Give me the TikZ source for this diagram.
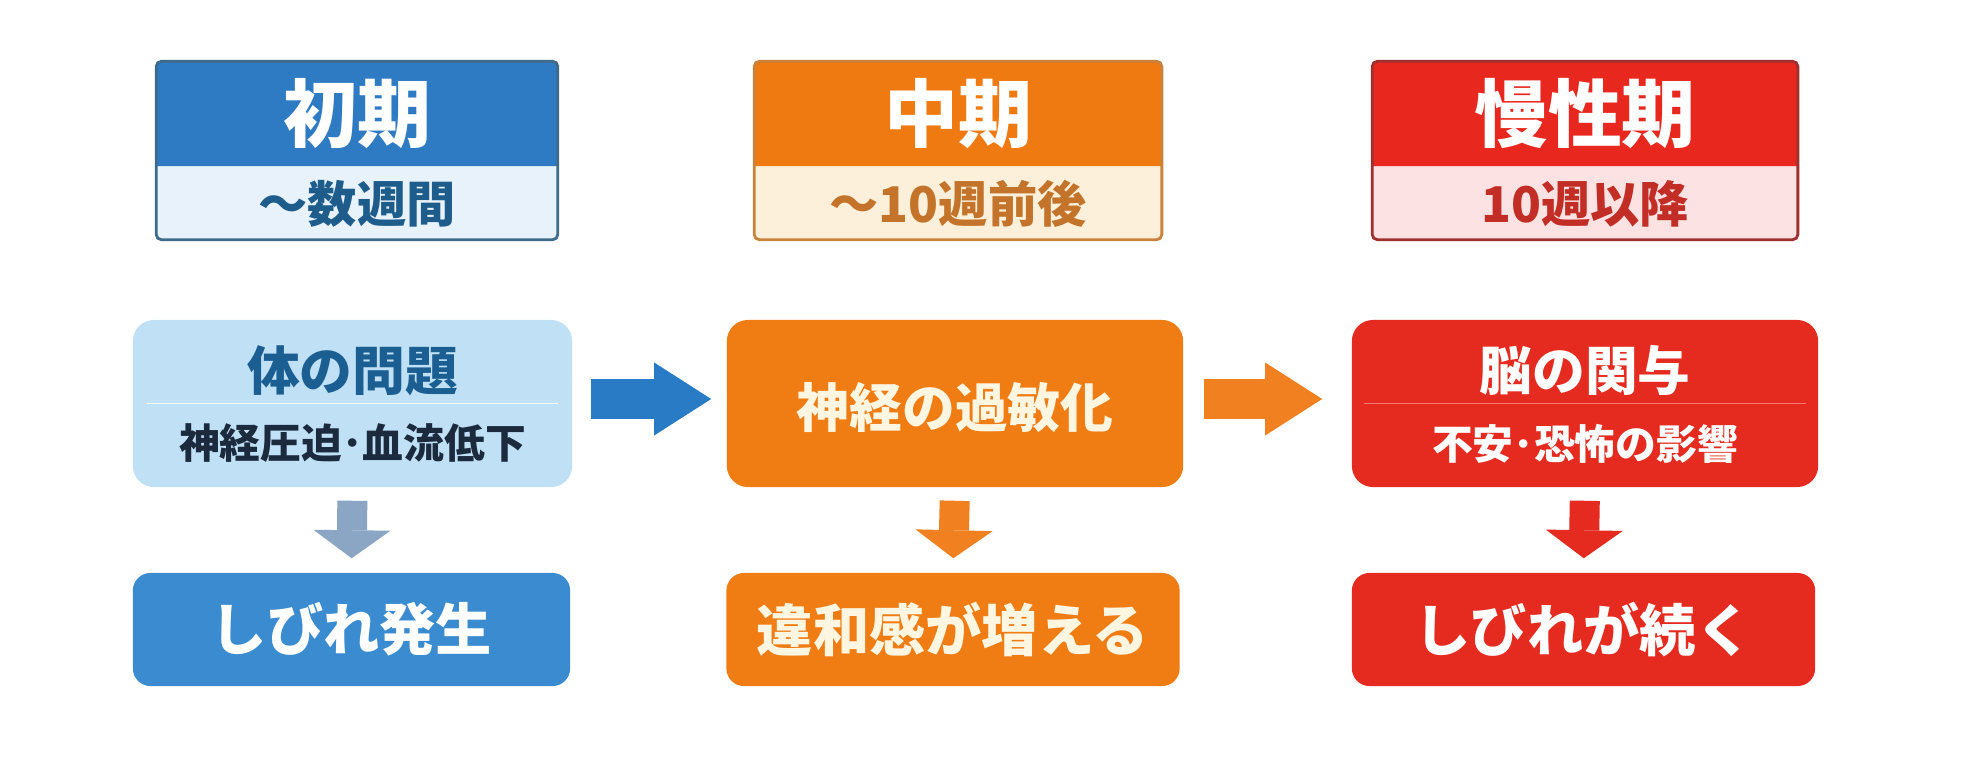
\documentclass[tikz,border=0pt]{standalone}
\usepackage{fontspec}
\setmainfont{Noto Sans CJK JP}
\usetikzlibrary{calc,arrows.meta}

\definecolor{blueH}{HTML}{2E7BC4}
\definecolor{blueHL}{HTML}{E7F2FA}
\definecolor{blueHT}{HTML}{1E5C8C}
\definecolor{blueB}{HTML}{3F6A88}
\definecolor{blueM}{HTML}{BFE0F5}
\definecolor{blueMT}{HTML}{1B5E92}
\definecolor{blueMS}{HTML}{1C2A3E}
\definecolor{blueDA}{HTML}{8AA6C4}
\definecolor{blueBot}{HTML}{3A8BD0}
\definecolor{blueRA}{HTML}{2A7BC6}
\definecolor{orH}{HTML}{F07A12}
\definecolor{orHL}{HTML}{FDF0DA}
\definecolor{orHT}{HTML}{C4742A}
\definecolor{orB}{HTML}{C8823C}
\definecolor{orM}{HTML}{F07C14}
\definecolor{orT}{HTML}{FFF6E2}
\definecolor{orRA}{HTML}{F08020}
\definecolor{redH}{HTML}{E8281F}
\definecolor{redHL}{HTML}{FCE2E2}
\definecolor{redHT}{HTML}{C22E26}
\definecolor{redB}{HTML}{A03030}
\definecolor{redM}{HTML}{E52B20}
\definecolor{redL}{HTML}{F47A70}

\tikzset{
  hdrbox/.style={rectangle,rounded corners=1.5pt,minimum height=1.77cm,inner sep=0pt},
  hdrtitle/.style={text=white,font=\fontsize{21}{25}\selectfont\bfseries},
  hdrsub/.style={font=\fontsize{14}{17}\selectfont\bfseries},
  midbox/.style={rectangle,rounded corners=6pt,minimum height=1.67cm,inner sep=0pt},
  midtitle/.style={font=\fontsize{15}{18}\selectfont\bfseries},
  midsub/.style={font=\fontsize{11.6}{14}\selectfont\bfseries},
  botbox/.style={rectangle,rounded corners=5pt,minimum height=1.13cm,inner sep=0pt,text=white,font=\fontsize{16}{19}\selectfont\bfseries},
  rightarrow/.style={line width=0.4cm,-{Triangle[length=0.57cm,width=0.73cm,line width=0pt]}},
  downarrow/.style={line width=0.3cm,-{Triangle[length=0.28cm,width=0.77cm,line width=0pt]}},
}

\begin{document}
\begin{tikzpicture}[x=0.01cm,y=-0.01cm]
  \useasboundingbox[fill=white] (0,0) rectangle (1980,764);

  % headers
  \node[hdrbox,fill=blueHL,minimum width=4cm] (h1) at (357,150.5) {};
  \node[hdrbox,fill=orHL,minimum width=4.06cm] (h2) at (958,150.5) {};
  \node[hdrbox,fill=redHL,minimum width=4.24cm] (h3) at (1585,150.5) {};
  \fill[blueH] ($(h1.north west)+(0,105)$) {[rounded corners=1.5pt] -- (h1.north west) -- (h1.north east)} -- ($(h1.north east)+(0,105)$) -- cycle;
  \fill[orH] ($(h2.north west)+(0,105)$) {[rounded corners=1.5pt] -- (h2.north west) -- (h2.north east)} -- ($(h2.north east)+(0,105)$) -- cycle;
  \fill[redH] ($(h3.north west)+(0,105)$) {[rounded corners=1.5pt] -- (h3.north west) -- (h3.north east)} -- ($(h3.north east)+(0,105)$) -- cycle;
  \draw[blueB,thick,rounded corners=1.5pt] (h1.north west) rectangle (h1.south east);
  \draw[orB,thick,rounded corners=1.5pt] (h2.north west) rectangle (h2.south east);
  \draw[redB,thick,rounded corners=1.5pt] (h3.north west) rectangle (h3.south east);
  \node[hdrtitle] (t1) at ($(h1.north)+(0,52.5)$) {初期};
  \node[hdrtitle] (t2) at ($(h2.north)+(0,52.5)$) {中期};
  \node[hdrtitle] (t3) at ($(h3.north)+(0,52.5)$) {慢性期};
  \node[hdrsub,text=blueHT] (d1) at ($(h1.south)+(0,-36)$) {〜数週間};
  \node[hdrsub,text=orHT] (d2) at ($(h2.south)+(0,-36)$) {〜10週前後};
  \node[hdrsub,text=redHT] (d3) at ($(h3.south)+(0,-36)$) {10週以降};

  % middle row
  \node[midbox,fill=blueM,minimum width=4.39cm] (m1) at (352.5,403.5) {};
  \node[midbox,fill=orM,minimum width=4.56cm] (m2) at (955,403.5) {};
  \node[midbox,fill=redM,minimum width=4.66cm] (m3) at (1585,403.5) {};
  \draw[white,shorten <=0.15cm,shorten >=0.15cm] (m1.west) -- (m1.east);
  \draw[redL,shorten <=0.13cm,shorten >=0.13cm] (m3.west) -- (m3.east);
  \node[midtitle,text=blueMT] (p1) at ($(m1)+(0,-33)$) {体の問題};
  \node[midsub,text=blueMS] (q1) at ($(m1)+(0,40)$) {神経圧迫･血流低下};
  \node[midtitle,text=orT] (p2) at ($(m2)+(0,4)$) {神経の過敏化};
  \node[midtitle,text=white] (p3) at ($(m3)+(0,-33)$) {脳の関与};
  \node[midsub,text=white] (q3) at ($(m3)+(0,40)$) {不安･恐怖の影響};

  % bottom row
  \node[botbox,fill=blueBot,minimum width=4.37cm] (b1) at (351.5,629.5) {しびれ発生};
  \node[botbox,fill=orM,text=orT,minimum width=4.53cm] (b2) at (953,629.5) {違和感が増える};
  \node[botbox,fill=redM,minimum width=4.63cm] (b3) at (1583.5,629.5) {しびれが続く};

  % arrows
  \draw[rightarrow,blueRA,shorten <=0.18cm,shorten >=0.15cm] ([yshift=0.045cm]m1.east) -- ([yshift=0.045cm]m2.west);
  \draw[rightarrow,orRA,shorten <=0.2cm,shorten >=0.29cm] ([yshift=0.045cm]m2.east) -- ([yshift=0.045cm]m3.west);
  \draw[downarrow,blueDA,shorten <=0.13cm,shorten >=0.14cm] (m1.south) -- (b1.north);
  \draw[downarrow,orRA,shorten <=0.13cm,shorten >=0.14cm] (m2.south) -- (b2.north);
  \draw[downarrow,redM,shorten <=0.13cm,shorten >=0.14cm] (m3.south) -- (b3.north);
\end{tikzpicture}
\end{document}
